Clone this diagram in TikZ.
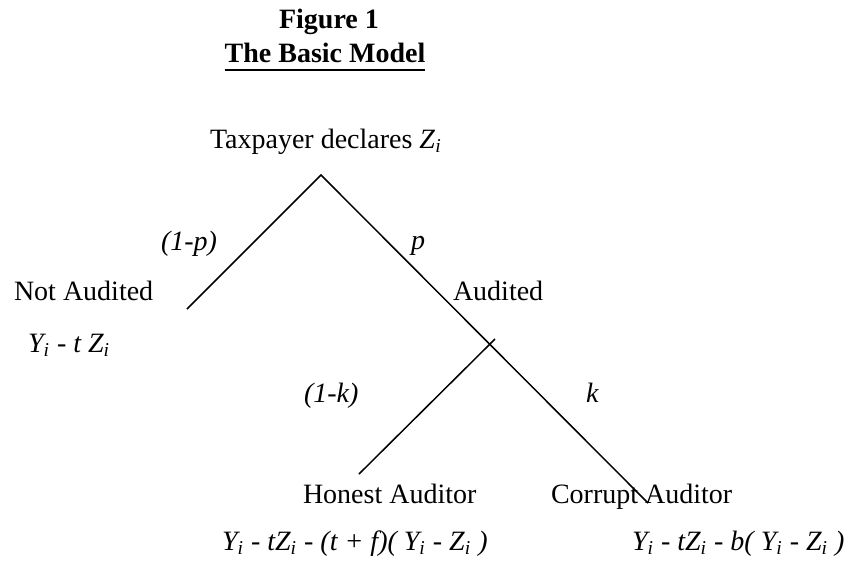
\documentclass[tikz,border=0pt]{standalone}
\usepackage{fontspec}
\setmainfont{Liberation Serif}
\newcommand{\sbi}{\textsubscript{\textit{i}}}
\tikzset{
  lbl/.style={inner sep=0pt, outer sep=0pt, anchor=base west, font=\fontsize{14pt}{17pt}\selectfont},
  ilbl/.style={lbl, font=\fontsize{14pt}{17pt}\selectfont\itshape},
  ttl/.style={inner sep=0pt, outer sep=0pt, anchor=base, font=\fontsize{14pt}{17pt}\selectfont\bfseries},
  branch/.style={line width=0.75pt}
}
\begin{document}
\begin{tikzpicture}[x=0.5pt,y=-0.5pt]
\useasboundingbox[fill=white] (0,0) rectangle (855,563);
% title
\node[ttl] (fig) at (329,28) {Figure 1};
\node[ttl] (model) at (325,62) {The Basic Model};
\draw[line width=1.2pt] ([yshift=-4pt]model.base west) -- ([yshift=-4pt]model.base east);
% tree coordinates
\coordinate (root) at (321,175);
\coordinate (na) at (187,309);
\coordinate (cor) at (648,503);
\coordinate (audtick) at (495,339);
\coordinate (hon) at (359,474);
\draw[branch] (na) -- (root) -- (cor);
\draw[branch] (audtick) -- (hon);
% labels
\node[lbl] (tax) at (210,148) {Taxpayer declares \textit{Z}\sbi};
\node[ilbl] (q1) at (161,250) {(1-p)};
\node[ilbl] (p1) at (411,249) {p};
\node[lbl] (notaud) at (14,300) {Not Audited};
\node[lbl] (aud) at (453,300) {Audited};
\node[ilbl] (pay1) at (28,352) {Y\sbi\ - t Z\sbi};
\node[ilbl] (q2) at (304,402) {(1-k)};
\node[ilbl] (k1) at (586,402) {k};
\node[lbl] (honest) at (303,503) {Honest Auditor};
\node[lbl] (corrupt) at (551,503) {Corrupt Auditor};
\node[ilbl] (pay2) at (222,550) {Y\sbi\ - tZ\sbi\ - (t + f)( Y\sbi\ - Z\sbi\ )};
\node[ilbl] (pay3) at (632,550) {Y\sbi\ - tZ\sbi\ - b( Y\sbi\ - Z\sbi\ )};
\end{tikzpicture}
\end{document}
